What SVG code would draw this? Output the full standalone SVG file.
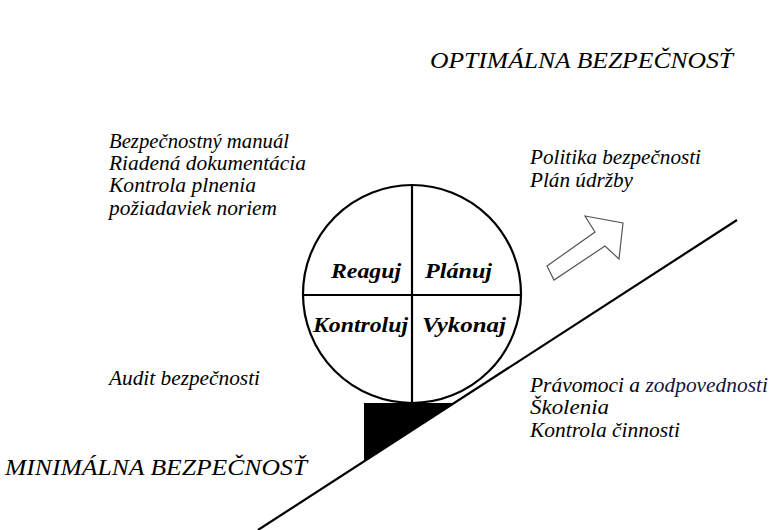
<svg xmlns="http://www.w3.org/2000/svg" width="778" height="530" viewBox="0 0 778 530">
<style>
.ln{stroke:#000;stroke-width:2.2;fill:none}
</style>
<rect width="778" height="530" fill="#fff"/>
<g id="slope">
<line class="ln" x1="258" y1="530" x2="737" y2="220"/>
<polygon points="364,403 455,403 364,461" fill="#000"/>
</g>
<g id="wheel" font-family="Liberation Serif" font-style="italic" font-weight="bold" font-size="21" fill="#000">
<circle class="ln" cx="412" cy="294" r="109"/>
<line class="ln" x1="412" y1="185" x2="412" y2="403"/>
<line class="ln" x1="303" y1="295" x2="521" y2="295"/>
<text x="331" y="278" textLength="70" lengthAdjust="spacingAndGlyphs">Reaguj</text>
<text x="425" y="278" textLength="67" lengthAdjust="spacingAndGlyphs">Plánuj</text>
<text x="313" y="332" textLength="95" lengthAdjust="spacingAndGlyphs">Kontroluj</text>
<text x="422" y="332" textLength="84" lengthAdjust="spacingAndGlyphs">Vykonaj</text>
</g>
<g id="arrow">
<polygon points="547,266 595,232 585,216 623,223 619,259 605,246 554,280" fill="#fff" stroke="#555" stroke-width="1.2"/>
</g>
<g id="optimal" font-family="Liberation Serif" font-style="italic" font-size="24" fill="#000">
<text x="430" y="68" textLength="303" lengthAdjust="spacingAndGlyphs">OPTIMÁLNA BEZPEČNOSŤ</text>
</g>
<g id="minimal" font-family="Liberation Serif" font-style="italic" font-size="24" fill="#000">
<text x="5" y="475" textLength="302" lengthAdjust="spacingAndGlyphs">MINIMÁLNA BEZPEČNOSŤ</text>
</g>
<g id="left-top" font-family="Liberation Serif" font-style="italic" font-size="20" fill="#000">
<text x="109" y="148" textLength="180" lengthAdjust="spacingAndGlyphs">Bezpečnostný manuál</text>
<text x="109" y="170" textLength="197" lengthAdjust="spacingAndGlyphs">Riadená dokumentácia</text>
<text x="109" y="192" textLength="147" lengthAdjust="spacingAndGlyphs">Kontrola plnenia</text>
<text x="109" y="215" textLength="168" lengthAdjust="spacingAndGlyphs">požiadaviek noriem</text>
</g>
<g id="right-top" font-family="Liberation Serif" font-style="italic" font-size="20" fill="#000">
<text x="530" y="164" textLength="171" lengthAdjust="spacingAndGlyphs">Politika bezpečnosti</text>
<text x="530" y="187" textLength="103" lengthAdjust="spacingAndGlyphs">Plán údržby</text>
</g>
<g id="left-bottom" font-family="Liberation Serif" font-style="italic" font-size="20" fill="#000">
<text x="109" y="385" textLength="151" lengthAdjust="spacingAndGlyphs">Audit bezpečnosti</text>
</g>
<g id="right-bottom" font-family="Liberation Serif" font-style="italic" font-size="20" fill="#000">
<text x="530" y="392" textLength="238" lengthAdjust="spacingAndGlyphs">Právomoci a <tspan fill="#141442">zodpovednosti</tspan></text>
<text x="530" y="414" textLength="79" lengthAdjust="spacingAndGlyphs">Školenia</text>
<text x="530" y="437" textLength="150" lengthAdjust="spacingAndGlyphs">Kontrola činnosti</text>
</g>
</svg>
